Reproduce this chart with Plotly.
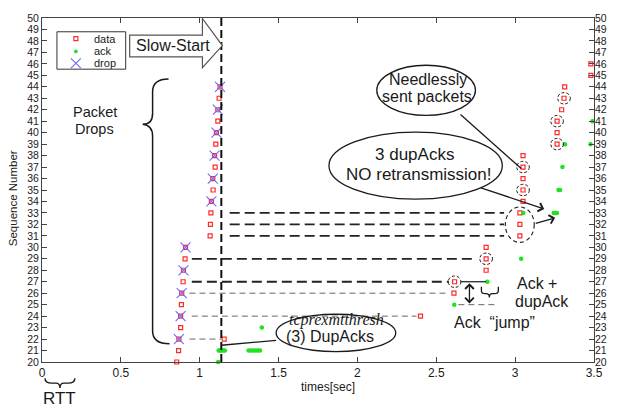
import plotly.graph_objects as go

# ---------------- data ----------------
data_t = [0.854, 0.866, 0.868, 0.879, 0.879, 0.884, 0.886, 0.895, 0.897, 0.907, 0.910,
          1.066, 1.068, 1.071, 1.074, 1.085, 1.083, 1.098, 1.094, 1.102, 1.106, 1.115, 1.115, 1.123, 1.129,
          1.155, 2.400, 2.612, 2.616, 2.816, 2.816, 2.816, 3.030, 3.030, 3.030,
          3.050, 3.050, 3.050, 3.050, 3.050, 3.266, 3.266, 3.266, 3.295, 3.310, 3.314, 3.480, 3.480]
data_seq = [20, 21, 22, 23, 24, 25, 26, 27, 28, 29, 30,
            31, 32, 33, 34, 35, 36, 37, 38, 39, 40, 41, 42, 43, 44,
            22, 24, 26, 27, 28, 29, 30, 31, 32, 33,
            34, 35, 36, 37, 38, 39, 40, 41, 42, 43, 44, 45, 46]

ack_t = [1.117, 1.120, 1.130, 1.140, 1.150, 1.160, 1.310, 1.325, 1.340, 1.355, 1.370, 1.382,
         1.394, 2.614, 2.824, 3.038, 3.052, 3.245, 3.255, 3.265, 3.275, 3.285, 3.300, 3.316, 3.478, 3.490]
ack_seq = [20, 21, 21, 21, 21, 21, 21, 21, 21, 21, 21, 21,
           23, 25, 27, 29, 33, 33, 33, 33, 35, 35, 37, 39, 39, 41]

drop_t = [0.868, 0.879, 0.886, 0.897, 0.910, 1.074, 1.083, 1.094, 1.106, 1.115, 1.129]
drop_seq = [22, 24, 26, 28, 30, 34, 36, 38, 40, 42, 44]

circled_t = [2.616, 2.816, 3.050, 3.050, 3.266, 3.266, 3.310]
circled_seq = [27, 29, 35, 37, 39, 41, 43]

x_ticks = [0, 0.5, 1, 1.5, 2, 2.5, 3, 3.5]
x_ticktext = ["0", "0.5", "1", "1.5", "2", "2.5", "3", "3.5"]
y_ticks = list(range(20, 51))

slow_start_t = 1.137

# ---------------- helpers (pixel -> paper / data) ----------------
L, R, T, B = 42, 596, 13, 362.5
def X(p): return (p - L) / (R - L)
def Y(p): return (B - p) / (B - T)
def DX(p): return X(p) * 3.5
def DY(p): return 20 + Y(p) * 30

def svg(*tok):
    out = []
    i = 0
    while i < len(tok):
        t = tok[i]
        if isinstance(t, str):
            out.append(t); i += 1
        else:
            out.append(f"{X(tok[i]):.5f},{Y(tok[i+1]):.5f}"); i += 2
    return " ".join(out)

FONT = "Arial, Liberation Sans, sans-serif"
INK = "#1a1a1a"

fig = go.Figure()
fig.add_trace(go.Scatter(x=data_t, y=data_seq, mode="markers", name="data", cliponaxis=False,
                         marker=dict(symbol="square-open", size=4, color="#ff2a2a", line=dict(width=1.2))))
fig.add_trace(go.Scatter(x=ack_t, y=ack_seq, mode="markers", name="ack", cliponaxis=False,
                         marker=dict(symbol="circle", size=4.5, color="#22e022")))
fig.add_trace(go.Scatter(x=drop_t, y=drop_seq, mode="markers", name="drop", cliponaxis=False,
                         marker=dict(symbol="x-thin-open", size=10, color="#6a6aff", line=dict(width=1.1))))
fig.add_trace(go.Scatter(x=[None], y=[None], yaxis="y2", showlegend=False, hoverinfo="skip"))

shapes = []
ann = []

def line_px(x0, y0, x1, y1, color=INK, width=1.3, dash="solid"):
    shapes.append(dict(type="line", xref="paper", yref="paper", x0=X(x0), y0=Y(y0), x1=X(x1), y1=Y(y1),
                       line=dict(color=color, width=width, dash=dash)))

def hline(y, t0, t1, thick=True):
    shapes.append(dict(type="line", xref="x", yref="y", x0=t0, x1=t1, y0=y, y1=y,
                       line=dict(color="#222" if thick else "#666", width=1.8 if thick else 1.0,
                                 dash="10px,5px" if thick else "6px,4px")))

def text(px_, py_, s, size=16, **kw):
    ann.append(dict(xref="paper", yref="paper", x=X(px_), y=Y(py_), text=s, showarrow=False,
                    xanchor=kw.pop("xanchor", "center"), yanchor="middle",
                    font=dict(family=kw.pop("family", FONT), size=size, color=INK), **kw))

def ellipse(x0, y0, x1, y1, dash="solid", width=1.3):
    shapes.append(dict(type="circle", xref="paper", yref="paper", x0=X(x0), y0=Y(y1), x1=X(x1), y1=Y(y0),
                       line=dict(color=INK, width=width, dash=dash)))

def arrow(x0, y0, x1, y1, both=False):
    ann.append(dict(xref="x", yref="y", axref="x", ayref="y", x=DX(x1), y=DY(y1), ax=DX(x0), ay=DY(y0),
                    text="", showarrow=True, arrowhead=4, arrowsize=1.3, arrowwidth=1.3, arrowcolor=INK,
                    arrowside="end+start" if both else "end", standoff=0, startstandoff=0,
                    startarrowhead=4, startarrowsize=1.3))

# vertical slow-start dashed line
shapes.append(dict(type="line", xref="x", yref="y", x0=slow_start_t, x1=slow_start_t, y0=20, y1=50,
                   line=dict(color="#111", width=2, dash="8px,4px")))

# horizontal guide lines
hline(22, 0.935, slow_start_t, thick=False)
hline(24, 0.95, 2.375, thick=False)
hline(26, 0.935, 2.58, thick=False)
hline(27, 0.95, 2.58)
hline(29, 0.95, 2.73)
for s in (31, 32, 33):
    hline(s, 1.19, 2.93)
hline(25, 2.64, 2.87, thick=False)
shapes.append(dict(type="line", xref="x", yref="y", x0=2.655, x1=2.815, y0=27, y1=27,
                   line=dict(color=INK, width=1.2)))

# small dashed circles around needless retransmissions
for t, s in zip(circled_t, circled_seq):
    shapes.append(dict(type="circle", xref="x", yref="y", x0=t - 0.040, x1=t + 0.040, y0=s - 0.5, y1=s + 0.5,
                       line=dict(color=INK, width=1, dash="3px,2px")))

# legend box
shapes.append(dict(type="rect", xref="paper", yref="paper", x0=X(57), x1=X(126), y0=Y(65), y1=Y(27),
                   line=dict(color="#333", width=1), fillcolor="white"))
shapes.append(dict(type="rect", xref="paper", yref="paper", x0=X(74), x1=X(78), y0=Y(36), y1=Y(32),
                   line=dict(color="#ff2a2a", width=1.2)))
shapes.append(dict(type="circle", xref="paper", yref="paper", x0=X(74.5), x1=X(77.5), y0=Y(48.5), y1=Y(45.5),
                   line=dict(color="#22e022", width=1), fillcolor="#22e022"))
line_px(71, 54, 81, 64, color="#6a6aff", width=1.1)
line_px(71, 64, 81, 54, color="#6a6aff", width=1.1)
text(92, 34, "data", size=11, xanchor="left")
text(92, 47, "ack", size=11, xanchor="left")
text(92, 59, "drop", size=11, xanchor="left")

# Slow-Start block arrow
shapes.append(dict(type="path", xref="paper", yref="paper",
                   path=svg("M", 130, 30.5, "L", 203, 30.5, "L", 203, 13.5, "L", 223, 41, "L", 203, 63.5,
                            "L", 203, 52.5, "L", 130, 52.5, "Z"),
                   line=dict(color="#555", width=1.2), fillcolor="white"))
text(173, 41, "Slow-Start", size=16)

# Packet drops brace and text
shapes.append(dict(type="path", xref="paper", yref="paper",
                   path=svg("M", 169, 75, "Q", 153, 75, 153, 88, "L", 153, 110, "Q", 153, 121, 143, 121,
                            "Q", 153, 122, 153, 133, "L", 153, 331, "Q", 153, 344, 170, 344),
                   line=dict(color=INK, width=1.5)))
text(95, 108, "Packet", size=14.5)
text(95, 126, "Drops", size=14.5)

# tcprexmtthresh ellipse
ellipse(277, 314, 397, 352)
line_px(222, 345.5, 277, 340.5)
text(338, 320, "<i>tcprexmtthresh</i>", size=16, family="Times New Roman, Liberation Serif, serif")
text(331, 337, "(3) DupAcks", size=16)

# Needlessly sent packets
ellipse(378, 61, 477, 112)
text(429, 75, "Needlessly", size=16)
text(428, 93, "sent packets", size=16)
line_px(462, 111, 523, 166)

# 3 dupAcks ellipse
ellipse(330, 129, 504, 197)
text(416, 152, "3 dupAcks", size=17)
text(420, 172, "NO retransmission!", size=17)
arrow(481, 185, 546, 207)

# dashed ellipse around 31-33 + arrow
ellipse(507, 205, 536, 241, dash="4px,3px", width=1.1)
arrow(536, 222, 557, 216)

# Ack jump
arrow(471, 281, 471, 303, both=True)
text(496, 322, "Ack  \u201cjump\u201d", size=16)
shapes.append(dict(type="path", xref="paper", yref="paper",
                   path=svg("M", 483, 286, "L", 483, 290, "Q", 483, 293, 487, 293, "L", 488, 293,
                            "Q", 491, 293, 491, 297, "Q", 491, 293, 494, 293, "L", 496, 293,
                            "Q", 500, 293, 500, 290, "L", 500, 286),
                   line=dict(color=INK, width=1.3)))
text(539, 283, "Ack +", size=16)
text(544, 301, "dupAck", size=16)

# RTT brace
shapes.append(dict(type="path", xref="paper", yref="paper",
                   path=svg("M", 45, 379, "Q", 45, 384, 52, 384, "L", 56, 384, "Q", 60, 384, 60, 389,
                            "Q", 60, 384, 64, 384, "L", 68, 384, "Q", 75, 384, 75, 379),
                   line=dict(color=INK, width=1.4)))
text(60, 400, "RTT", size=17)

# axis titles
text(329, 388, "times[sec]", size=12)
text(13, 196, "Sequence Number", size=11.5, textangle=-90)

axis_common = dict(showgrid=False, zeroline=False, showline=True, linecolor="#444", linewidth=1,
                   ticks="inside", ticklen=5, tickcolor="#444")

fig.update_layout(
    width=619, height=412,
    margin=dict(l=L, r=619 - R, t=T, b=412 - B),
    paper_bgcolor="white", plot_bgcolor="white",
    showlegend=False,
    xaxis=dict(range=[0, 3.5], tickvals=x_ticks, ticktext=x_ticktext, mirror="ticks",
               tickfont=dict(family=FONT, size=12, color=INK), **axis_common),
    yaxis=dict(range=[20, 50], tickvals=y_ticks, mirror="ticks",
               tickfont=dict(family=FONT, size=10.5, color=INK), **axis_common),
    yaxis2=dict(range=[20, 50], tickvals=y_ticks, overlaying="y", side="right", showgrid=False,
                zeroline=False, showline=False, ticks="",
                tickfont=dict(family=FONT, size=10.5, color=INK)),
    shapes=shapes,
    annotations=ann,
)

fig.write_html("out.html")
